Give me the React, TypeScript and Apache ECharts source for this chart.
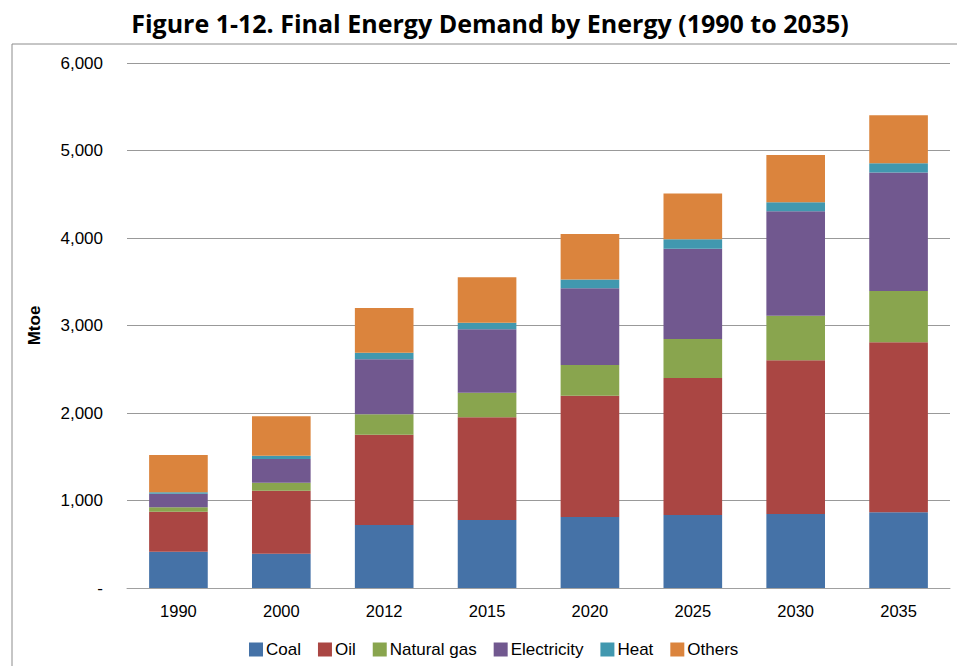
import React, { useEffect, useRef } from "react";
import * as echarts from "echarts";

const categories = ["1990", "2000", "2012", "2015", "2020", "2025", "2030", "2035"];
const coal = [415, 392, 720, 777, 811, 834, 846, 865];
const oil = [457, 720, 1032, 1174, 1387, 1566, 1756, 1943];
const naturalGas = [50, 92, 233, 281, 351, 446, 510, 586];
const electricity = [156, 270, 628, 724, 876, 1032, 1193, 1356];
const heat = [15, 38, 76, 76, 102, 107, 103, 103];
const others = [427, 450, 511, 519, 519, 525, 541, 549];

const seriesNames = ["Coal", "Oil", "Natural gas", "Electricity", "Heat", "Others"];
const seriesData = [coal, oil, naturalGas, electricity, heat, others];
const colors = ["#4572A7", "#AA4643", "#89A54E", "#71588F", "#4198AF", "#DB843D"];

export default function App() {
  const ref = useRef<HTMLDivElement>(null);
  useEffect(() => {
    if (!ref.current) return;
    const chart = echarts.init(ref.current, null, { renderer: "svg" });
    chart.setOption({
      animation: false,
      backgroundColor: "#ffffff",
      color: colors,
      title: {
        text: "Figure 1-12. Final Energy Demand by Energy (1990 to 2035)",
        left: 485,
        top: 5,
        textAlign: "center",
        textStyle: {
          fontFamily: "Open Sans",
          fontWeight: "bold",
          fontSize: 25,
          color: "#000",
        },
      },
      graphic: [
        {
          type: "rect",
          shape: { x: 12, y: 44, width: 980, height: 700 },
          style: { fill: "none", stroke: "#8c8c8c", lineWidth: 1 },
          silent: true,
          z: -1,
        },
      ],
      grid: { left: 127, right: 7, top: 63, bottom: 78, containLabel: false },
      legend: {
        data: seriesNames,
        left: 244,
        bottom: 3,
        itemWidth: 14,
        itemHeight: 14,
        itemGap: 17,
        icon: "rect",
        textStyle: { fontFamily: "Liberation Sans", fontSize: 17, color: "#000", padding: [0, 0, 0, -2] },
      },
      xAxis: {
        type: "category",
        data: categories,
        axisLine: { lineStyle: { color: "#a0a0a0" } },
        axisTick: { show: false },
        axisLabel: { fontFamily: "Liberation Sans", fontSize: 16.5, color: "#000", margin: 14 },
      },
      yAxis: {
        type: "value",
        min: 0,
        max: 6000,
        interval: 1000,
        name: "Mtoe",
        nameLocation: "middle",
        nameGap: 84,
        nameTextStyle: { fontFamily: "Liberation Sans", fontWeight: "bold", fontSize: 17, color: "#000" },
        axisLine: { show: false },
        axisTick: { show: false },
        splitLine: { lineStyle: { color: "#999999" } },
        axisLabel: {
          fontFamily: "Liberation Sans",
          fontSize: 17,
          color: "#000",
          margin: 24,
          formatter: (v: number) => (v === 0 ? "-" : v.toLocaleString("en-US")),
        },
      },
      series: seriesNames.map((name, i) => ({
        name,
        type: "bar",
        stack: "total",
        data: seriesData[i],
        barWidth: "57%",
        itemStyle: { color: colors[i] },
      })),
    });
    return () => chart.dispose();
  }, []);
  return <div ref={ref} style={{ position: "fixed", left: 0, top: 0, width: 957, height: 666 }} />;
}
